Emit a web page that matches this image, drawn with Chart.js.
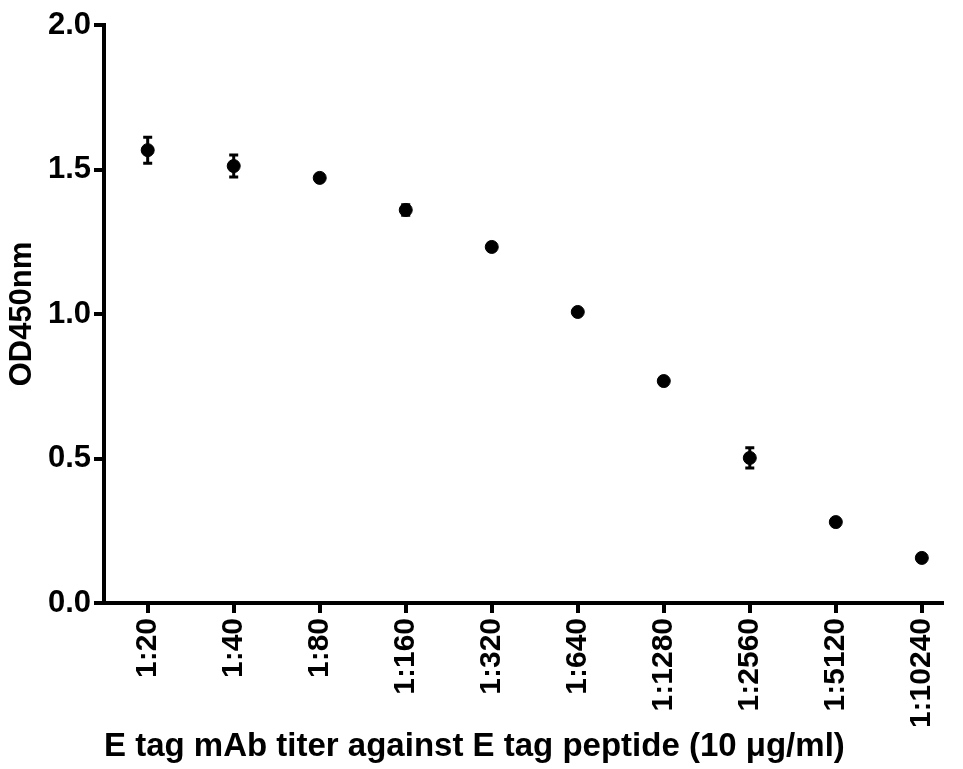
<!DOCTYPE html>
<html>
<head>
<meta charset="utf-8">
<script src="https://cdn.jsdelivr.net/npm/chart.js@4.4.1/dist/chart.umd.min.js"></script>
<style>
  html, body { margin: 0; padding: 0; background: #fff; }
  #wrap { width: 963px; height: 769px; }
</style>
</head>
<body>
<div id="wrap"><canvas id="titerChart" width="963" height="769"></canvas></div>
<script>
// dilutions, mean OD450 and SEM
const dilutions = ['1:20', '1:40', '1:80', '1:160', '1:320', '1:640', '1:1280', '1:2560', '1:5120', '1:10240'];
const od450 = [1.567, 1.512, 1.471, 1.360, 1.232, 1.007, 0.768, 0.502, 0.280, 0.156];
const sem = [0.045, 0.038, 0.008, 0.018, 0.012, 0.005, 0.005, 0.035, 0.005, 0.005];
const yTicks = [0, 0.5, 1.0, 1.5, 2.0];

Chart.defaults.font.family = "'Liberation Sans', Arial, sans-serif";
Chart.defaults.font.weight = 'bold';
Chart.defaults.color = '#000';

// vertical error bars with caps
const errorBars = {
    id: 'errorBars',
    afterDatasetsDraw(chart) {
        const { ctx, scales: { x, y } } = chart;
        ctx.save();
        ctx.strokeStyle = '#000';
        ctx.lineWidth = 3;
        od450.forEach((v, i) => {
            const px = x.getPixelForValue(i);
            const top = y.getPixelForValue(v + sem[i]);
            const bot = y.getPixelForValue(v - sem[i]);
            ctx.beginPath();
            ctx.moveTo(px, top); ctx.lineTo(px, bot);
            ctx.moveTo(px - 4.5, top); ctx.lineTo(px + 4.5, top);
            ctx.moveTo(px - 4.5, bot); ctx.lineTo(px + 4.5, bot);
            ctx.stroke();
        });
        ctx.restore();
    }
};

const ctx = document.getElementById('titerChart').getContext('2d');
new Chart(ctx, {
    type: 'scatter',
    data: {
        datasets: [{
            label: 'OD450nm',
            data: od450.map((v, i) => ({ x: i, y: v })),
            backgroundColor: '#000',
            borderColor: '#000',
            pointRadius: 6.5,
            pointHoverRadius: 6.5
        }]
    },
    options: {
        responsive: false,
        animation: false,
        layout: { padding: { top: 25, right: 0, left: 0, bottom: 0 } },
        plugins: {
            legend: { display: false },
            tooltip: { enabled: false }
        },
        scales: {
            x: {
                type: 'linear',
                min: -0.508,
                max: 9.24,
                afterFit: s => { s.height = 166; },
                afterBuildTicks: s => { s.ticks = dilutions.map((d, i) => ({ value: i })); },
                grid: { drawOnChartArea: false, tickLength: 10, lineWidth: 4, color: '#000' },
                border: { width: 4, color: '#000' },
                ticks: {
                    autoSkip: false,
                    minRotation: 90,
                    maxRotation: 90,
                    padding: 5,
                    font: { size: 30 },
                    callback: v => dilutions[v]
                },
                title: {
                    display: true,
                    align: 'start',
                    text: 'E tag mAb titer against E tag peptide (10 \u03bcg/ml)',
                    font: { size: 33 },
                    padding: { top: 0, bottom: 2 }
                }
            },
            y: {
                min: 0,
                max: 2,
                afterFit: s => { s.width = 104; },
                afterBuildTicks: s => { s.ticks = yTicks.map(v => ({ value: v })); },
                grid: { drawOnChartArea: false, tickLength: 10, lineWidth: 4, color: '#000' },
                border: { width: 4, color: '#000' },
                ticks: {
                    padding: 3,
                    font: { size: 31 },
                    callback: v => v.toFixed(1)
                },
                title: {
                    display: true,
                    text: 'OD450nm',
                    font: { size: 31 },
                    padding: { top: 4, bottom: 0 }
                }
            }
        }
    },
    plugins: [errorBars]
});
</script>
</body>
</html>
